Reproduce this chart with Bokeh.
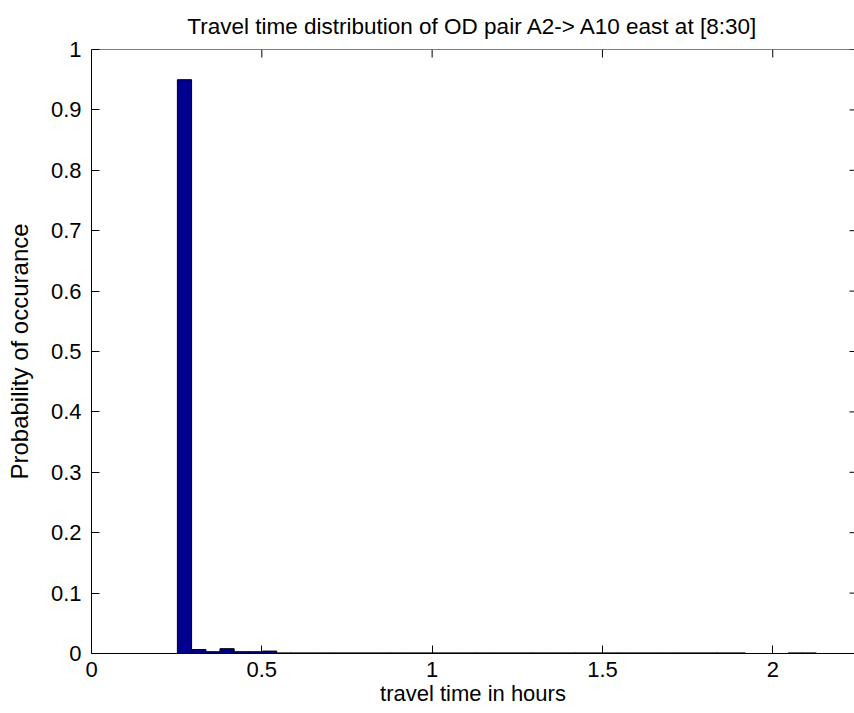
from bokeh.plotting import figure
from bokeh.models import FixedTicker, Range1d, Span
from bokeh.embed import file_html
from bokeh.resources import INLINE

# ---- data ----
bin_centers = [0.273, 0.315, 0.356, 0.398, 0.440, 0.481, 0.523, 0.565, 0.606, 0.648,
               0.690, 0.731, 0.773, 0.815, 0.857, 0.898, 0.940, 0.982, 1.023, 1.065,
               1.107, 1.148, 1.190, 1.232, 1.274, 1.315, 1.357, 1.399, 1.440, 1.482,
               1.524, 1.565, 1.607, 1.649, 1.691, 1.732, 1.774, 1.816, 1.857, 1.899,
               1.941, 1.982, 2.024, 2.066, 2.107]
probability = [0.950, 0.0066, 0.003, 0.008, 0.003, 0.003, 0.004, 0.001, 0.001, 0.001,
               0.001, 0.001, 0.001, 0.001, 0.001, 0.001, 0.001, 0.001, 0.001, 0.001,
               0.001, 0.001, 0.001, 0.001, 0.001, 0.001, 0.001, 0.001, 0.001, 0.001,
               0.001, 0.001, 0.001, 0.001, 0.001, 0.001, 0.001, 0.001, 0.001, 0.001,
               0.0, 0.0, 0.0, 0.001, 0.001]
bin_width = 0.0417

x_ticks = [0, 0.5, 1, 1.5, 2]
x_tick_labels = ["0", "0.5", "1", "1.5", "2"]
y_ticks = [0, 0.1, 0.2, 0.3, 0.4, 0.5, 0.6, 0.7, 0.8, 0.9, 1]
y_tick_labels = ["0", "0.1", "0.2", "0.3", "0.4", "0.5", "0.6", "0.7", "0.8", "0.9", "1"]

title_text = "Travel time distribution of OD pair A2-> A10 east at [8:30]"
x_label = "travel time in hours"
y_label = "Probability of occurance"

FONT = "Liberation Sans"
X_MAX = 2.24
Y_MAX = 1.0
FRAME_W = 763
FRAME_H = 604
TICK_PX = 8

p = figure(width=854, height=713, output_backend="svg", toolbar_location=None,
           x_range=Range1d(0, X_MAX), y_range=Range1d(0, Y_MAX),
           min_border_left=91, min_border_right=0, min_border_top=49,
           min_border_bottom=60, title=title_text)

p.vbar(x=bin_centers, top=probability, width=bin_width, bottom=0,
       fill_color="#00008F", line_color="black", line_width=1)

# top border and inward ticks of the box (MATLAB style)
p.add_layout(Span(location=Y_MAX, dimension="width", line_color="black", line_width=1))
top_len = TICK_PX * Y_MAX / FRAME_H
p.segment(x0=x_ticks, x1=x_ticks, y0=[Y_MAX] * len(x_ticks),
          y1=[Y_MAX - top_len] * len(x_ticks), line_color="black", line_width=1)
right_len = 5 * X_MAX / FRAME_W
p.segment(x0=[X_MAX] * len(y_ticks), x1=[X_MAX - right_len] * len(y_ticks),
          y0=y_ticks, y1=y_ticks, line_color="black", line_width=1)

p.outline_line_color = None
p.xgrid.visible = False
p.ygrid.visible = False
p.background_fill_color = "white"
p.border_fill_color = "white"

p.title.align = "center"
p.title.text_font = FONT
p.title.text_font_size = "22.5px"
p.title.text_font_style = "normal"
p.title.text_color = "black"
p.title.standoff = 22

xa = p.xaxis[0]
xa.ticker = FixedTicker(ticks=x_ticks)
xa.major_label_overrides = {t: l for t, l in zip(x_ticks, x_tick_labels)}
xa.axis_label = x_label
ya = p.yaxis[0]
ya.ticker = FixedTicker(ticks=y_ticks)
ya.major_label_overrides = {t: l for t, l in zip(y_ticks, y_tick_labels)}
ya.axis_label = y_label

for ax in (xa, ya):
    ax.major_label_text_font = FONT
    ax.major_label_text_font_size = "22px"
    ax.major_label_text_color = "black"
    ax.axis_label_text_font = FONT
    ax.axis_label_text_font_style = "normal"
    ax.axis_label_text_color = "black"
    ax.axis_line_color = "black"
    ax.major_tick_line_color = "black"
    ax.major_tick_in = TICK_PX
    ax.major_tick_out = 0
    ax.minor_tick_line_color = None
xa.axis_label_text_font_size = "22px"
ya.axis_label_text_font_size = "24px"
xa.major_label_standoff = 8
xa.axis_label_standoff = 1
ya.major_label_standoff = 10
ya.axis_label_standoff = 15

open("out.html", "w").write(file_html(p, INLINE))
